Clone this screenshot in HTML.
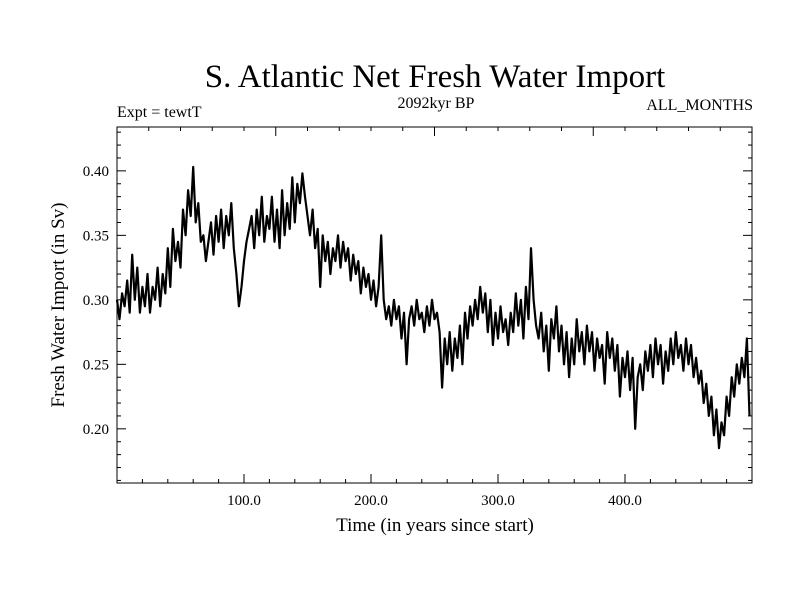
<!DOCTYPE html>
<html><head><meta charset="utf-8"><style>
html,body{margin:0;padding:0;background:#fff;}
svg{display:block;font-family:"Liberation Serif",serif;}
</style></head><body>
<svg id="chart" width="800" height="600" viewBox="0 0 800 600">
<text x="435" y="87" text-anchor="middle" font-size="33">S. Atlantic Net Fresh Water Import</text>
<text x="117" y="117" font-size="16">Expt = tewtT</text>
<text x="436" y="108" text-anchor="middle" font-size="16">2092kyr BP</text>
<text x="753" y="110" text-anchor="end" font-size="16">ALL_MONTHS</text>
<text transform="translate(64,305) rotate(-90)" text-anchor="middle" font-size="19">Fresh Water Import (in Sv)</text>
<text x="435" y="531" text-anchor="middle" font-size="19">Time (in years since start)</text>
<g id="axes"></g>
<path id="line" fill="none" stroke="#000" stroke-width="2.2" stroke-linejoin="round"/>
<rect x="117" y="127" width="635" height="356" fill="none" stroke="#000" stroke-width="1"/>
</svg>
<script>
const xStart = 0, xStep = 2;
const values = [
0.300,0.285,0.305,0.295,0.315,0.290,0.335,0.300,0.325,0.290,
0.310,0.295,0.320,0.290,0.310,0.300,0.325,0.295,0.320,0.305,
0.340,0.310,0.355,0.330,0.345,0.325,0.370,0.350,0.385,0.365,
0.403,0.360,0.375,0.345,0.350,0.330,0.345,0.360,0.335,0.365,
0.345,0.370,0.340,0.365,0.350,0.375,0.340,0.320,0.295,0.310,
0.330,0.345,0.355,0.365,0.340,0.370,0.350,0.380,0.345,0.365,
0.355,0.380,0.345,0.370,0.340,0.385,0.350,0.375,0.355,0.395,
0.360,0.390,0.375,0.398,0.380,0.365,0.350,0.370,0.340,0.355,
0.310,0.350,0.330,0.345,0.320,0.340,0.330,0.350,0.325,0.345,
0.330,0.340,0.315,0.335,0.320,0.330,0.305,0.325,0.310,0.320,
0.300,0.315,0.295,0.310,0.350,0.300,0.285,0.295,0.280,0.300,
0.285,0.295,0.270,0.290,0.250,0.285,0.295,0.280,0.300,0.285,
0.290,0.275,0.295,0.280,0.300,0.285,0.290,0.275,0.232,0.270,
0.250,0.275,0.245,0.270,0.255,0.280,0.250,0.290,0.270,0.295,
0.280,0.300,0.285,0.310,0.290,0.305,0.275,0.300,0.265,0.290,
0.270,0.295,0.275,0.285,0.265,0.290,0.275,0.305,0.280,0.300,
0.270,0.310,0.285,0.340,0.300,0.280,0.270,0.290,0.260,0.280,
0.245,0.285,0.270,0.295,0.260,0.280,0.250,0.275,0.240,0.270,
0.250,0.285,0.260,0.275,0.250,0.280,0.260,0.275,0.245,0.270,
0.255,0.265,0.235,0.275,0.255,0.270,0.245,0.265,0.225,0.255,
0.240,0.260,0.230,0.255,0.200,0.240,0.250,0.230,0.260,0.245,
0.265,0.240,0.270,0.250,0.265,0.235,0.260,0.245,0.270,0.250,
0.275,0.255,0.265,0.245,0.270,0.250,0.265,0.240,0.255,0.235,
0.245,0.220,0.235,0.210,0.225,0.195,0.215,0.185,0.205,0.195,
0.225,0.210,0.240,0.225,0.250,0.235,0.255,0.240,0.270,0.210
];
const xTicks = [100,200,300,400];
const xTickLabels = ["100.0","200.0","300.0","400.0"];
const yTicks = [0.20,0.25,0.30,0.35,0.40];
const yTickLabels = ["0.20","0.25","0.30","0.35","0.40"];

const L=117,R=752,T=127,B=483;
const xMin=0,xMax=500,yMin=0.158,yMax=0.434;
function sx(v){return L+(v-xMin)/(xMax-xMin)*(R-L);}
function sy(v){return B-(v-yMin)/(yMax-yMin)*(B-T);}

let d='';
values.forEach((v,i)=>{d+=(i?'L':'M')+sx(xStart+i*xStep).toFixed(1)+','+sy(v).toFixed(1);});
document.getElementById('line').setAttribute('d',d);

const NS='http://www.w3.org/2000/svg';
const g=document.getElementById('axes');
function line(x1,y1,x2,y2,name){
  const l=document.createElementNS(NS,'line');
  l.setAttribute('x1',x1);l.setAttribute('y1',y1);l.setAttribute('x2',x2);l.setAttribute('y2',y2);
  l.setAttribute('stroke','#000');l.setAttribute('stroke-width','1');
  
  
  g.appendChild(l);
}
function text(x,y,s,anchor,name){
  const t=document.createElementNS(NS,'text');
  t.setAttribute('x',x);t.setAttribute('y',y);t.setAttribute('text-anchor',anchor);t.setAttribute('font-size','15');
  t.textContent=s;
  
  
  g.appendChild(t);
}
for(let v=20;v<500;v+=20){
  const major=v%100===0, len=major?9:4, x=sx(v);
  line(x,B,x,B-len,'x-tick');
}
for(let v=25;v<500;v+=25){
  const x=sx(v), len=(v%125===0)?9:4;
  line(x,T,x,T+len,'top-tick');
}
for(let k=16;k<=43;k++){
  const v=k/100, y=sy(v), len=(k%5===0)?9:4;
  line(L,y,L+len,y,'y-tick');
  line(R,y,R-len,y,'right-tick');
}
xTicks.forEach((v,i)=>text(sx(v),B+22,xTickLabels[i],'middle','x-tick-label'));
yTicks.forEach((v,i)=>text(L-8,sy(v)+5,yTickLabels[i],'end','y-tick-label'));
</script>
</body></html>
